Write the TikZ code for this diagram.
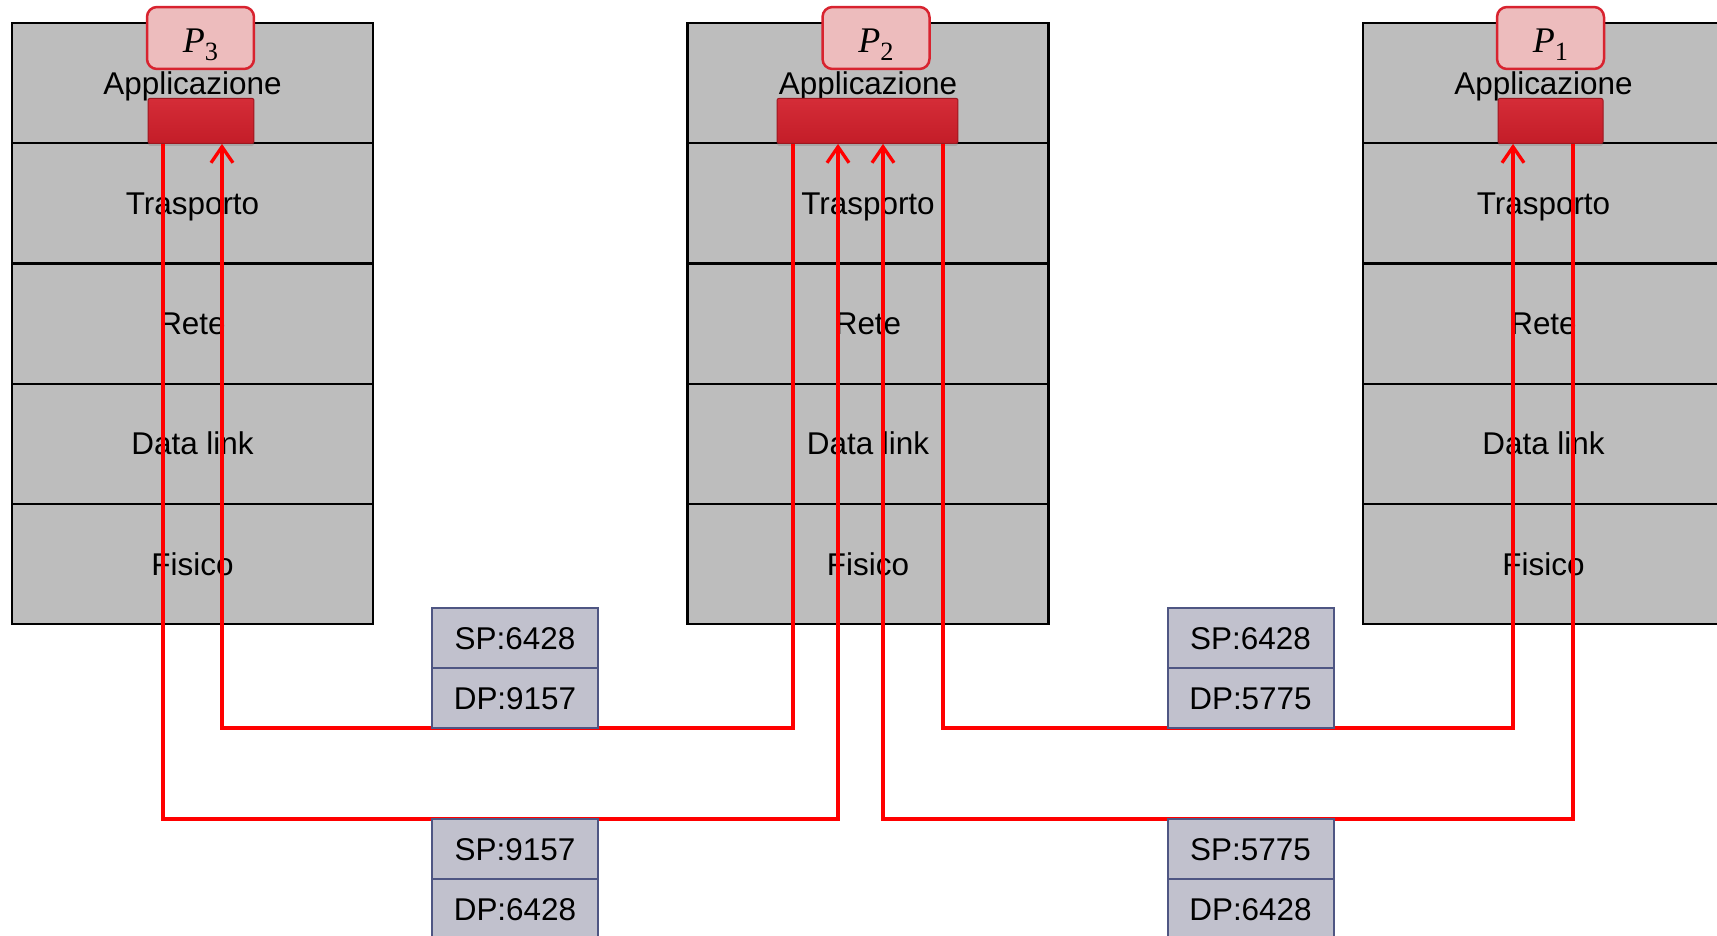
\documentclass[tikz,border=0pt]{standalone}
\usepackage[no-math]{fontspec}
\setmainfont{Liberation Sans}
\newfontfamily\procfont{Liberation Serif}
\usepackage{tikz}
\usetikzlibrary{shapes,arrows,arrows.meta,positioning,shadows}

\definecolor{layergray}{HTML}{BDBDBD}
\definecolor{procpink}{HTML}{EDBCBD}
\definecolor{procred}{HTML}{D8232F}
\definecolor{bufred}{HTML}{D21F2B}
\definecolor{pktfill}{HTML}{C1C1CD}
\definecolor{pktline}{HTML}{4F5683}
\definecolor{linkred}{HTML}{FF0000}

\begin{document}
\begin{tikzpicture}[
    x=0.02cm, y=-0.02cm,
    stacklayer/.style={rectangle, draw=black, fill=layergray, line width=0.045cm, minimum width=7.22cm, minimum height=2.404cm, inner sep=0pt, outer sep=0pt, text height=12.8pt, text depth=0pt, font=\fontsize{17.9}{21}\selectfont},
    proc/.style={rectangle, rounded corners=0.2cm, draw=procred, fill=procpink, line width=0.05cm, minimum width=2.14cm, minimum height=1.24cm, inner sep=0pt, text height=16pt, text depth=0pt, font=\procfont\fontsize{20.5}{22}\selectfont},
    buffer/.style={rectangle, rounded corners=0.04cm, top color=bufred!94!white, bottom color=bufred!93!black, draw=bufred!75!black, line width=0.02cm, minimum height=0.9cm, inner sep=0pt, drop shadow={shadow xshift=0cm, shadow yshift=-0.05cm, opacity=0.35}},
    pkt/.style={rectangle, draw=pktline, fill=pktfill, line width=0.04cm, minimum width=3.32cm, minimum height=1.2cm, inner sep=0pt, outer sep=0pt, text height=12.8pt, text depth=0pt, font=\fontsize{17.9}{21}\selectfont},
    link/.style={draw=linkred, line width=0.066cm, -{Straight Barb[length=0.32cm, width=0.44cm]}}
]
\useasboundingbox (0,0) rectangle (1717,936);
\clip (0,0) rectangle (1717,936);

% stack of P3
\node[stacklayer] (app3) at (192.5,83.2) {Applicazione};
\node[stacklayer, below=0pt of app3] (tra3) {Trasporto};
\node[stacklayer, below=0pt of tra3] (ret3) {Rete};
\node[stacklayer, below=0pt of ret3] (dl3) {Data link};
\node[stacklayer, below=0pt of dl3] (fis3) {Fisico};

% stack of P2
\node[stacklayer] (app2) at (868,83.2) {Applicazione};
\node[stacklayer, below=0pt of app2] (tra2) {Trasporto};
\node[stacklayer, below=0pt of tra2] (ret2) {Rete};
\node[stacklayer, below=0pt of ret2] (dl2) {Data link};
\node[stacklayer, below=0pt of dl2] (fis2) {Fisico};

% stack of P1
\node[stacklayer] (app1) at (1543.5,83.2) {Applicazione};
\node[stacklayer, below=0pt of app1] (tra1) {Trasporto};
\node[stacklayer, below=0pt of tra1] (ret1) {Rete};
\node[stacklayer, below=0pt of ret1] (dl1) {Data link};
\node[stacklayer, below=0pt of dl1] (fis1) {Fisico};

% processes and their sockets
\node[proc] (p3) at (200.5,38) {\itshape P\raisebox{-5pt}{\fontsize{15}{16}\selectfont\upshape 3}};
\node[proc] (p2) at (876,38) {\itshape P\raisebox{-5pt}{\fontsize{15}{16}\selectfont\upshape 2}};
\node[proc] (p1) at (1550.5,38) {\itshape P\raisebox{-5pt}{\fontsize{15}{16}\selectfont\upshape 1}};
\node[buffer, minimum width=2.12cm] (buf3) at (201,120.9) {};
\node[buffer, minimum width=3.62cm] (buf2) at (867.5,120.9) {};
\node[buffer, minimum width=2.1cm] (buf1) at (1550.5,120.9) {};

\coordinate (o3) at ([xshift=-0.76cm]buf3.south);
\coordinate (i3) at ([xshift=0.42cm]buf3.south);
\coordinate (o2a) at ([xshift=-1.49cm]buf2.south);
\coordinate (i2a) at ([xshift=-0.59cm]buf2.south);
\coordinate (i2b) at ([xshift=0.31cm]buf2.south);
\coordinate (o2b) at ([xshift=1.51cm]buf2.south);
\coordinate (i1) at ([xshift=-0.75cm]buf1.south);
\coordinate (o1) at ([xshift=0.45cm]buf1.south);
\coordinate (upper) at (0,728);
\coordinate (lower) at (0,819);

\draw[link] (o2a) -- (o2a |- upper) -| (i3);
\draw[link] (o3) -- (o3 |- lower) -| (i2a);
\draw[link] (o2b) -- (o2b |- upper) -| (i1);
\draw[link] (o1) -- (o1 |- lower) -| (i2b);

% segments on the wire
\node[pkt] (sp23) at (515,638.3) {SP:6428};
\node[pkt, below=0pt of sp23] (dp23) {DP:9157};
\node[pkt] (sp32) at (515,849) {SP:9157};
\node[pkt, below=0pt of sp32] (dp32) {DP:6428};
\node[pkt] (sp21) at (1250.5,638.3) {SP:6428};
\node[pkt, below=0pt of sp21] (dp21) {DP:5775};
\node[pkt] (sp12) at (1250.5,849) {SP:5775};
\node[pkt, below=0pt of sp12] (dp12) {DP:6428};
\end{tikzpicture}
\end{document}
